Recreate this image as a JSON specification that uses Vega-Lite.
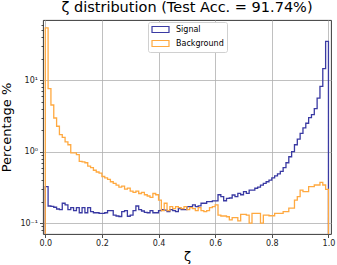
{
  "$schema": "https://vega.github.io/schema/vega-lite/v6.json",
  "width": 288,
  "height": 214,
  "autosize": {"type": "none"},
  "padding": {"left": 43, "top": 20, "right": 6, "bottom": 31},
  "background": "white",
  "config": {"view": {"stroke": "#222222", "strokeWidth": 0.9}, "font": "DejaVu Sans"},
  "title": {"text": "ζ distribution (Test Acc. = 91.74%)", "fontSize": 14.5, "font": "DejaVu Sans", "fontWeight": "normal", "color": "black", "anchor": "middle", "frame": "group", "baseline": "alphabetic", "offset": 4.5, "dy": 10.5},
  "data": {"values": [
    {"zeta": 0, "Signal": 0.001, "Background": 0.001},
    {"zeta": 0.00, "Signal": 0.325, "Background": 54},
    {"zeta": 0.01, "Signal": 0.174, "Background": 7.6},
    {"zeta": 0.02, "Signal": 0.172, "Background": 4.5},
    {"zeta": 0.03, "Signal": 0.167, "Background": 2.96},
    {"zeta": 0.04, "Signal": 0.158, "Background": 2.27},
    {"zeta": 0.05, "Signal": 0.155, "Background": 1.73},
    {"zeta": 0.06, "Signal": 0.19, "Background": 1.59},
    {"zeta": 0.07, "Signal": 0.18, "Background": 1.37},
    {"zeta": 0.08, "Signal": 0.155, "Background": 1.25},
    {"zeta": 0.09, "Signal": 0.165, "Background": 0.96},
    {"zeta": 0.10, "Signal": 0.15, "Background": 0.96},
    {"zeta": 0.11, "Signal": 0.165, "Background": 0.91},
    {"zeta": 0.12, "Signal": 0.14, "Background": 0.73},
    {"zeta": 0.13, "Signal": 0.165, "Background": 0.72},
    {"zeta": 0.14, "Signal": 0.14, "Background": 0.70},
    {"zeta": 0.15, "Signal": 0.165, "Background": 0.63},
    {"zeta": 0.16, "Signal": 0.145, "Background": 0.60},
    {"zeta": 0.17, "Signal": 0.14, "Background": 0.55},
    {"zeta": 0.18, "Signal": 0.14, "Background": 0.52},
    {"zeta": 0.19, "Signal": 0.137, "Background": 0.50},
    {"zeta": 0.20, "Signal": 0.137, "Background": 0.45},
    {"zeta": 0.21, "Signal": 0.14, "Background": 0.43},
    {"zeta": 0.22, "Signal": 0.15, "Background": 0.41},
    {"zeta": 0.23, "Signal": 0.15, "Background": 0.38},
    {"zeta": 0.24, "Signal": 0.13, "Background": 0.36},
    {"zeta": 0.25, "Signal": 0.126, "Background": 0.34},
    {"zeta": 0.26, "Signal": 0.124, "Background": 0.32},
    {"zeta": 0.27, "Signal": 0.145, "Background": 0.33},
    {"zeta": 0.28, "Signal": 0.15, "Background": 0.30},
    {"zeta": 0.29, "Signal": 0.125, "Background": 0.31},
    {"zeta": 0.30, "Signal": 0.13, "Background": 0.28},
    {"zeta": 0.31, "Signal": 0.15, "Background": 0.27},
    {"zeta": 0.32, "Signal": 0.174, "Background": 0.28},
    {"zeta": 0.33, "Signal": 0.155, "Background": 0.26},
    {"zeta": 0.34, "Signal": 0.148, "Background": 0.27},
    {"zeta": 0.35, "Signal": 0.142, "Background": 0.25},
    {"zeta": 0.36, "Signal": 0.14, "Background": 0.24},
    {"zeta": 0.37, "Signal": 0.15, "Background": 0.23},
    {"zeta": 0.38, "Signal": 0.14, "Background": 0.26},
    {"zeta": 0.39, "Signal": 0.14, "Background": 0.25},
    {"zeta": 0.40, "Signal": 0.15, "Background": 0.21},
    {"zeta": 0.41, "Signal": 0.155, "Background": 0.15},
    {"zeta": 0.42, "Signal": 0.152, "Background": 0.19},
    {"zeta": 0.43, "Signal": 0.145, "Background": 0.15},
    {"zeta": 0.44, "Signal": 0.155, "Background": 0.17},
    {"zeta": 0.45, "Signal": 0.15, "Background": 0.16},
    {"zeta": 0.46, "Signal": 0.145, "Background": 0.17},
    {"zeta": 0.47, "Signal": 0.16, "Background": 0.165},
    {"zeta": 0.48, "Signal": 0.155, "Background": 0.16},
    {"zeta": 0.49, "Signal": 0.155, "Background": 0.17},
    {"zeta": 0.50, "Signal": 0.17, "Background": 0.155},
    {"zeta": 0.51, "Signal": 0.17, "Background": 0.165},
    {"zeta": 0.52, "Signal": 0.18, "Background": 0.16},
    {"zeta": 0.53, "Signal": 0.17, "Background": 0.15},
    {"zeta": 0.54, "Signal": 0.175, "Background": 0.165},
    {"zeta": 0.55, "Signal": 0.19, "Background": 0.15},
    {"zeta": 0.56, "Signal": 0.19, "Background": 0.145},
    {"zeta": 0.57, "Signal": 0.2, "Background": 0.15},
    {"zeta": 0.58, "Signal": 0.2, "Background": 0.165},
    {"zeta": 0.59, "Signal": 0.205, "Background": 0.17},
    {"zeta": 0.60, "Signal": 0.205, "Background": 0.18},
    {"zeta": 0.61, "Signal": 0.25, "Background": 0.13},
    {"zeta": 0.62, "Signal": 0.235, "Background": 0.126},
    {"zeta": 0.63, "Signal": 0.206, "Background": 0.126},
    {"zeta": 0.64, "Signal": 0.223, "Background": 0.123},
    {"zeta": 0.65, "Signal": 0.225, "Background": 0.111},
    {"zeta": 0.66, "Signal": 0.248, "Background": 0.12},
    {"zeta": 0.67, "Signal": 0.235, "Background": 0.12},
    {"zeta": 0.68, "Signal": 0.262, "Background": 0.108},
    {"zeta": 0.69, "Signal": 0.25, "Background": 0.133},
    {"zeta": 0.70, "Signal": 0.276, "Background": 0.133},
    {"zeta": 0.71, "Signal": 0.262, "Background": 0.13},
    {"zeta": 0.72, "Signal": 0.29, "Background": 0.1},
    {"zeta": 0.73, "Signal": 0.29, "Background": 0.137},
    {"zeta": 0.74, "Signal": 0.308, "Background": 0.137},
    {"zeta": 0.75, "Signal": 0.32, "Background": 0.137},
    {"zeta": 0.76, "Signal": 0.34, "Background": 0.1},
    {"zeta": 0.77, "Signal": 0.36, "Background": 0.13},
    {"zeta": 0.78, "Signal": 0.38, "Background": 0.13},
    {"zeta": 0.79, "Signal": 0.40, "Background": 0.127},
    {"zeta": 0.80, "Signal": 0.43, "Background": 0.127},
    {"zeta": 0.81, "Signal": 0.46, "Background": 0.137},
    {"zeta": 0.82, "Signal": 0.49, "Background": 0.137},
    {"zeta": 0.83, "Signal": 0.53, "Background": 0.137},
    {"zeta": 0.84, "Signal": 0.6, "Background": 0.145},
    {"zeta": 0.85, "Signal": 0.7, "Background": 0.145},
    {"zeta": 0.86, "Signal": 0.85, "Background": 0.162},
    {"zeta": 0.87, "Signal": 1.0, "Background": 0.162},
    {"zeta": 0.88, "Signal": 1.25, "Background": 0.21},
    {"zeta": 0.89, "Signal": 1.5, "Background": 0.235},
    {"zeta": 0.90, "Signal": 1.8, "Background": 0.29},
    {"zeta": 0.91, "Signal": 2.15, "Background": 0.276},
    {"zeta": 0.92, "Signal": 2.5, "Background": 0.276},
    {"zeta": 0.93, "Signal": 3.0, "Background": 0.324},
    {"zeta": 0.94, "Signal": 3.3, "Background": 0.324},
    {"zeta": 0.95, "Signal": 4.0, "Background": 0.342},
    {"zeta": 0.96, "Signal": 5.6, "Background": 0.342},
    {"zeta": 0.97, "Signal": 8.2, "Background": 0.373},
    {"zeta": 0.98, "Signal": 14.5, "Background": 0.342},
    {"zeta": 0.99, "Signal": 35, "Background": 0.298},
    {"zeta": 1, "Signal": 0.001, "Background": 0.001}
  ]},
  "transform": [{"fold": ["Signal", "Background"], "as": ["series", "pct"]}],
  "mark": {"type": "line", "interpolate": "step-after", "clip": true, "strokeWidth": 1.3},
  "encoding": {
    "x": {
      "field": "zeta", "type": "quantitative",
      "scale": {"domain": [-0.008, 1.009], "nice": false, "zero": false},
      "axis": {
        "values": [0, 0.2, 0.4, 0.6, 0.8, 1],
        "format": ".1f",
        "title": "ζ",
        "titleFontSize": 13, "titleFont": "DejaVu Sans", "titleFontWeight": "normal", "titleColor": "black", "titlePadding": 3,
        "labelFontSize": 8, "labelFont": "DejaVu Sans", "labelColor": "#222222", "labelPadding": 2,
        "tickSize": 3.5, "tickColor": "#222222", "tickWidth": 0.8,
        "domain": false,
        "grid": true, "gridColor": "#b0b0b0", "gridWidth": 0.8
      }
    },
    "y": {
      "field": "pct", "type": "quantitative",
      "scale": {"type": "log", "domain": [0.0706, 69.5], "nice": false},
      "axis": {
        "values": [0.08, 0.09, 0.1, 0.2, 0.3, 0.4, 0.5, 0.6, 0.7, 0.8, 0.9, 1, 2, 3, 4, 5, 6, 7, 8, 9, 10, 20, 30, 40, 50, 60],
        "labelExpr": "datum.value == 10 ? '10¹' : (datum.value == 1 ? '10⁰' : (datum.value == 0.1 ? '10⁻¹' : ''))",
        "title": "Percentage %",
        "titleFontSize": 13, "titleFont": "DejaVu Sans", "titleFontWeight": "normal", "titleColor": "black",
        "titleX": -30, "titleY": 107,
        "labelFontSize": 8, "labelFont": "DejaVu Sans", "labelColor": "#222222", "labelPadding": 2,
        "tickColor": "#222222", "tickWidth": 0.8,
        "tickSize": {"condition": {"test": "datum.value == 0.1 || datum.value == 1 || datum.value == 10", "value": 3.5}, "value": 2},
        "domain": false,
        "grid": true, "gridColor": "#b0b0b0", "gridWidth": 0.8,
        "gridOpacity": {"condition": {"test": "datum.value == 0.1 || datum.value == 1 || datum.value == 10", "value": 1}, "value": 0}
      }
    },
    "color": {
      "field": "series", "type": "nominal",
      "scale": {"domain": ["Signal", "Background"], "range": ["#3a3aa3", "#ffa940"]},
      "legend": {
        "orient": "none", "legendX": 105, "legendY": 2, "title": null,
        "symbolType": "M-2.4,-0.85H2.4V0.85H-2.4Z", "symbolSize": 50, "symbolStrokeWidth": 1.2, "symbolFillColor": "white",
        "symbolOffset": 5,
        "labelFontSize": 8, "labelFont": "DejaVu Sans", "labelColor": "black", "labelOffset": 11,
        "padding": 3, "rowPadding": 3,
        "strokeColor": "#d0d0d0", "fillColor": "white", "cornerRadius": 2
      }
    }
  }
}
